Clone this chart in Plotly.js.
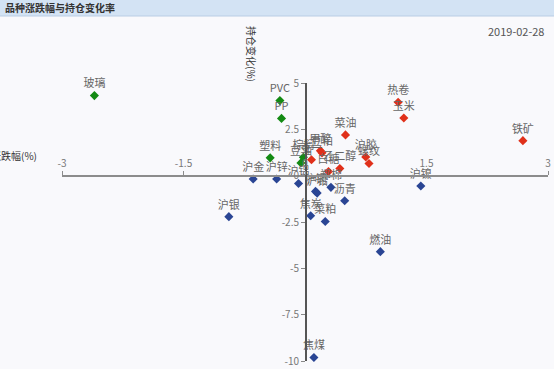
<!DOCTYPE html>
<html><head><meta charset="utf-8">
<script src="https://cdn.plot.ly/plotly-3.0.1.min.js"></script>
<style>html,body{margin:0;padding:0;background:#f9f9fc;}#c{width:554px;height:369px;}</style>
</head><body><div id="c"></div>
<script>
// 持仓增加、价格下跌 (green)
var greenNames = ["玻璃","PVC","PP","塑料","棕榈","豆油"];
var greenX = [-2.60,-0.31,-0.29,-0.43,-0.02,-0.05];
var greenY = [4.32,4.05,3.09,0.96,0.99,0.69];
// 持仓增加、价格上涨 (red)
var redNames = ["热卷","玉米","铁矿","菜油","沪胶","螺纹","甲醇","豆粕","豆一","乙二醇","白糖"];
var redX = [1.15,1.22,2.69,0.50,0.75,0.79,0.19,0.21,0.08,0.43,0.29];
var redY = [3.96,3.11,1.89,2.20,1.01,0.66,1.35,1.23,0.86,0.39,0.22];
// 持仓减少 (blue)
var blueNames = ["沪金","沪锌","沪铝","沪铜","沪铅","郑棉","沥青","焦炭","菜粕","沪银","燃油","沪镍","焦煤"];
var blueX = [-0.64,-0.35,-0.08,0.13,0.15,0.32,0.49,0.07,0.25,-0.94,0.93,1.43,0.11];
var blueY = [-0.18,-0.18,-0.42,-0.85,-0.94,-0.63,-1.35,-2.16,-2.47,-2.21,-4.10,-0.56,-9.81];

var xTicks = [-3,-1.5,0,1.5,3];
var yTicks = [5,2.5,0,-2.5,-5,-7.5,-10];

var F = "'Noto Sans CJK SC', 'DejaVu Sans', sans-serif";
function tr(n,x,y,c){return {type:'scatter',mode:'markers+text',x:x,y:y,text:n,textposition:'top center',
  textfont:{family:F,size:11,color:'#666'},marker:{symbol:'diamond',size:7,color:c},cliponaxis:false,hoverinfo:'skip'};}

var data=[tr(greenNames,greenX,greenY,'#138a13'),tr(redNames,redX,redY,'#e0301a'),tr(blueNames,blueX,blueY,'#2a4594')];

var W=486,H=278,L=62,T=83;
function px(x){return (x-L)/W;}
function py(y){return 1-(y-T)/H;}

var layout={
  width:554,height:369,showlegend:false,
  margin:{l:62,r:6,t:83,b:8},
  paper_bgcolor:'#f9f9fc',plot_bgcolor:'#f9f9fc',
  font:{family:F,size:10,color:'#777'},
  xaxis:{range:[-3,3],tickvals:xTicks,ticktext:xTicks.map(String),anchor:'free',position:2/3,side:'top',
    showgrid:false,zeroline:false,showline:true,linecolor:'#8c8c8c',linewidth:2,
    ticks:'outside',ticklen:4,tickcolor:'#8c8c8c',tickfont:{family:F,size:10,color:'#777'}},
  yaxis:{range:[-10,5],tickvals:yTicks,ticktext:yTicks.map(String),anchor:'free',position:0.5,side:'left',
    showgrid:false,zeroline:false,showline:true,linecolor:'#555',linewidth:1.5,
    ticks:'outside',ticklen:4,tickcolor:'#888',tickfont:{family:F,size:10,color:'#777'}},
  shapes:[
    {type:'rect',xref:'paper',yref:'paper',x0:px(0),x1:px(554),y0:py(16),y1:py(0),fillcolor:'#d3e3f4',line:{width:0},layer:'below'},
    {type:'line',xref:'paper',yref:'paper',x0:px(0),x1:px(554),y0:py(16),y1:py(16),line:{color:'#b9cde4',width:1}}
  ],
  annotations:[
    {xref:'paper',yref:'paper',x:px(3),y:py(8),xanchor:'left',yanchor:'middle',text:'<b>品种涨跌幅与持仓变化率</b>',showarrow:false,font:{family:F,size:10,color:'#333'}},
    {xref:'paper',yref:'paper',x:px(546),y:py(31),xanchor:'right',yanchor:'middle',text:'2019-02-28',showarrow:false,font:{family:F,size:11,color:'#555'}},
    {xref:'paper',yref:'paper',x:px(39),y:py(155),xanchor:'right',yanchor:'middle',text:'涨跌幅(%)',showarrow:false,font:{family:F,size:10,color:'#333'}},
    {xref:'paper',yref:'paper',x:px(252),y:py(24),xanchor:'center',yanchor:'top',text:'持仓变化(%)',textangle:90,showarrow:false,font:{family:F,size:10,color:'#333'}}
  ]
};
Plotly.newPlot('c',data,layout,{staticPlot:true});
</script></body></html>
